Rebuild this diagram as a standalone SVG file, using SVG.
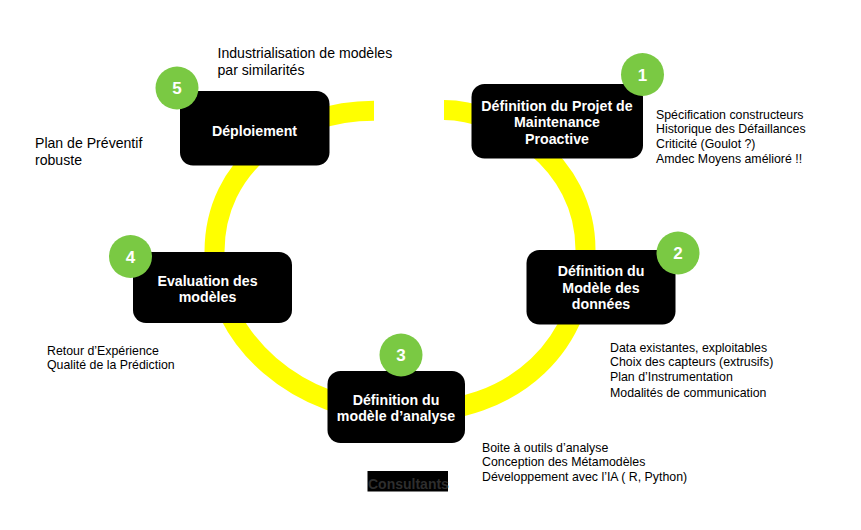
<svg xmlns="http://www.w3.org/2000/svg" width="861" height="530" viewBox="0 0 861 530">
<style>
text{font-family:"Liberation Sans",Arial,sans-serif;fill:#000}
.t{font-size:12.35px}
.l{font-size:14.1px}
.b{font-size:14.2px;font-weight:bold;fill:#fff;text-anchor:middle}
.n{font-size:17px;font-weight:bold;fill:#fff;text-anchor:middle}
.box{fill:#000}
.c{fill:#7ac943}
</style>
<rect width="861" height="530" fill="#fff"/>
<g id="connectors"><path d="M374 110.700C290 110.700 214.500 165 214.500 252C214.500 340 300 413 400 413C520 415 585.500 340 585.500 250C585.500 160 500 110 444 110" fill="none" stroke="#ffff00" stroke-width="20"/></g>
<g id="node1"><rect class="box" x="471.500" y="84" width="171.500" height="74.500" rx="13"/><text class="b"><tspan x="557" y="111">Définition du Projet de</tspan><tspan x="557" y="127">Maintenance</tspan><tspan x="557" y="144">Proactive</tspan></text><circle class="c" cx="642.500" cy="74.500" r="21.500"/><text class="n" x="642.500" y="80.500">1</text></g>
<g id="node2"><rect class="box" x="526.500" y="250" width="149" height="74.500" rx="13"/><text class="b"><tspan x="601" y="276">Définition du</tspan><tspan x="601" y="293">Modèle des</tspan><tspan x="601" y="309">données</tspan></text><circle class="c" cx="678" cy="253" r="21.500"/><text class="n" x="678" y="259">2</text></g>
<g id="node3"><rect class="box" x="327.500" y="371" width="137.500" height="72" rx="13"/><text class="b"><tspan x="396" y="405">Définition du</tspan><tspan x="396" y="421">modèle d’analyse</tspan></text><circle class="c" cx="401" cy="355" r="21.500"/><text class="n" x="401" y="361">3</text></g>
<g id="node4"><rect class="box" x="133" y="252" width="159" height="71" rx="13"/><text class="b"><tspan x="207.500" y="286">Evaluation des</tspan><tspan x="207.500" y="302">modèles</tspan></text><circle class="c" cx="130.500" cy="256.500" r="21.500"/><text class="n" x="130.500" y="262.500">4</text></g>
<g id="node5"><rect class="box" x="180" y="91" width="149.500" height="74.500" rx="13"/><text class="b" x="254.500" y="136">Déploiement</text><circle class="c" cx="177" cy="88" r="21.500"/><text class="n" x="177" y="94">5</text></g>
<g id="labels">
<text class="l"><tspan x="217.500" y="57.500">Industrialisation de modèles</tspan><tspan x="217.500" y="74.500">par similarités</tspan></text>
<text class="l"><tspan x="35" y="148">Plan de Préventif</tspan><tspan x="35" y="165">robuste</tspan></text>
<text class="t"><tspan x="656" y="118.500">Spécification constructeurs</tspan><tspan x="656" y="133">Historique des Défaillances</tspan><tspan x="656" y="148">Criticité (Goulot ?)</tspan><tspan x="656" y="163">Amdec Moyens amélioré !!</tspan></text>
<text class="t"><tspan x="610" y="352">Data existantes, exploitables</tspan><tspan x="610" y="366">Choix des capteurs (extrusifs)</tspan><tspan x="610" y="381">Plan d’Instrumentation</tspan><tspan x="610" y="396.500">Modalités de communication</tspan></text>
<text class="t"><tspan x="47" y="354.500">Retour d’Expérience</tspan><tspan x="47" y="368.500">Qualité de la Prédiction</tspan></text>
<text class="t"><tspan x="482" y="452">Boite à outils d’analyse</tspan><tspan x="482" y="466">Conception des Métamodèles</tspan><tspan x="482" y="481">Développement avec l’IA ( R, Python)</tspan></text>
</g>
<g id="logo"><rect x="367.500" y="471" width="80.500" height="20.500" fill="#000"/><text x="368" y="488.500" font-size="14" font-weight="bold" style="fill:#2e2e2e">Consultants</text></g>
</svg>
